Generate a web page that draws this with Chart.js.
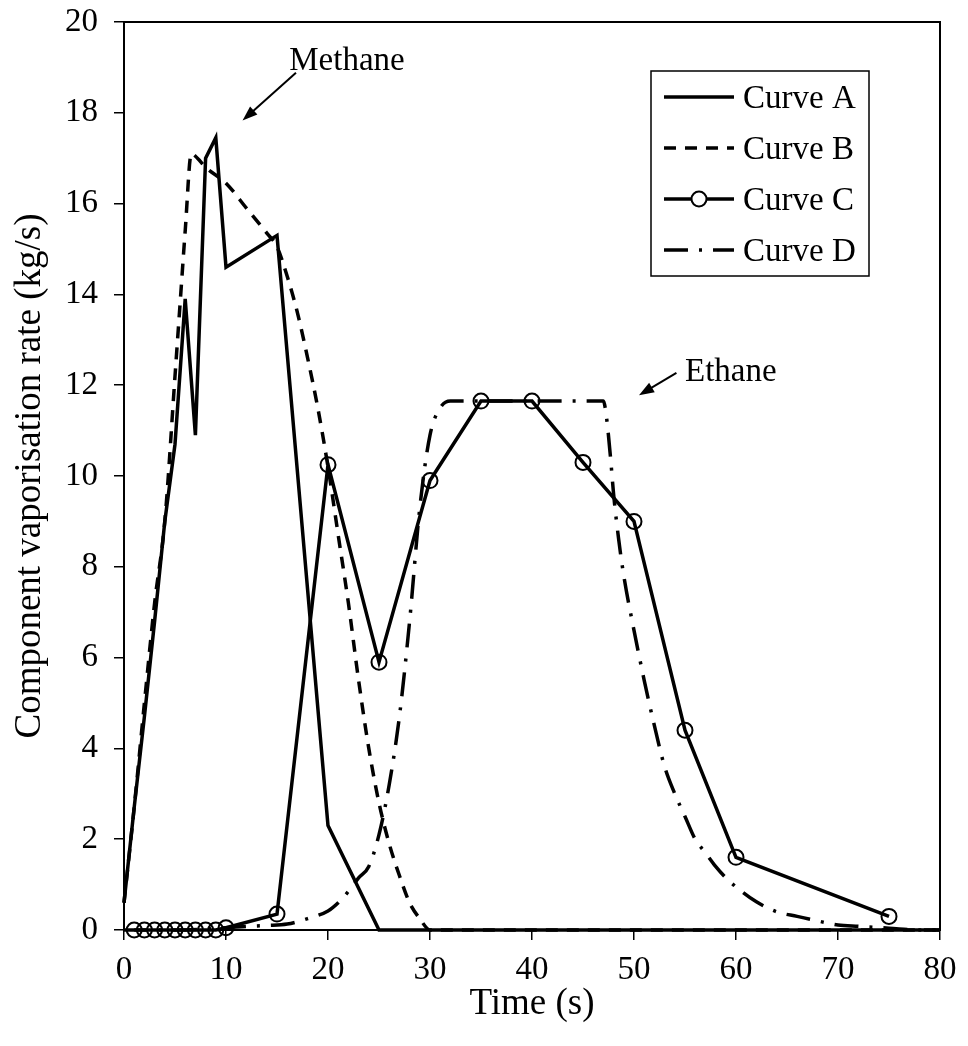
<!DOCTYPE html>
<html>
<head>
<meta charset="utf-8">
<script src="https://cdn.jsdelivr.net/npm/chart.js@4.4.0/dist/chart.umd.min.js"></script>
<style>
  html, body { margin: 0; padding: 0; background: #fff; }
  .wrap { width: 968px; height: 1046px; position: relative; }
</style>
</head>
<body>
<div class="wrap"><canvas id="chart"></canvas></div>
<script>
const FONT = "'Liberation Serif', 'Times New Roman', serif";

// Curve A - solid
const timeA = [0, 1, 2, 3, 4, 5, 6, 7, 8, 9, 10, 15, 20, 25, 30, 40, 50, 60, 70, 80];
const rateA = [0.6, 2.7, 4.7, 6.8, 9.0, 10.7, 13.9, 10.9, 17.0, 17.45, 14.6, 15.3, 2.3, 0, 0, 0, 0, 0, 0, 0];

// Curve B - dashed
const timeB = [0, 1, 2, 3, 4, 5, 5.5, 6, 6.6, 7.2, 8, 10, 12, 14, 15, 16, 17, 18, 19, 20, 21, 22, 23, 24, 25, 26, 27, 28, 29, 30, 40, 50, 60, 70, 80];
const rateB = [0.6, 2.7, 5.0, 7.2, 9.0, 12.2, 13.8, 15.4, 17.1, 17.0, 16.8, 16.45, 15.9, 15.35, 15.05, 14.4, 13.6, 12.6, 11.5, 10.2, 8.7, 7.2, 5.5, 4.0, 2.8, 1.9, 1.2, 0.6, 0.25, 0, 0, 0, 0, 0, 0];

// Curve C - solid with circles
const timeC = [1, 2, 3, 4, 5, 6, 7, 8, 9, 10, 15, 20, 25, 30, 35, 40, 45, 50, 55, 60, 75];
const rateC = [0, 0, 0, 0, 0, 0, 0, 0, 0, 0.05, 0.35, 10.25, 5.9, 9.9, 11.65, 11.65, 10.3, 9.0, 4.4, 1.6, 0.3];

// Curve D - dash-dot
const timeD = [0, 5, 10, 12, 14, 16, 18, 20, 21, 22, 23, 24, 25, 26, 27, 28, 29, 30, 31, 32, 40, 47, 47.3, 47.7, 48, 48.5, 49, 50, 51, 52, 53, 54, 55, 56, 57, 58, 59, 60, 62, 64, 66, 68, 70, 72, 75, 78, 80];
const rateD = [0, 0, 0.05, 0.08, 0.1, 0.13, 0.25, 0.42, 0.6, 0.85, 1.15, 1.4, 2.1, 3.2, 4.7, 6.8, 9.3, 10.9, 11.5, 11.65, 11.65, 11.65, 11.3, 10.4, 9.6, 8.6, 7.8, 6.6, 5.5, 4.5, 3.6, 3.0, 2.5, 2.0, 1.7, 1.4, 1.15, 0.95, 0.62, 0.4, 0.3, 0.2, 0.11, 0.08, 0.04, 0, 0];

const seriesNames = ['Curve A', 'Curve B', 'Curve C', 'Curve D'];
const xTicks = [0, 10, 20, 30, 40, 50, 60, 70, 80];
const yTicks = [0, 2, 4, 6, 8, 10, 12, 14, 16, 18, 20];

// labels with arrows, in data units: [text, textLeftX, baselineY, arrowFromX, arrowFromY, arrowToX, arrowToY]
const notes = [
  ['Methane', 16.2, 18.94, 16.86, 18.88, 11.62, 17.83],
  ['Ethane', 55.0, 12.09, 54.16, 12.27, 50.49, 11.78]
];

function pts(xs, ys) {
  return xs.map((x, i) => ({x: x, y: ys[i]}));
}

const frameAndNotes = {
  id: 'frameAndNotes',
  afterDatasetsDraw(chart) {
    const {ctx, chartArea, scales} = chart;
    ctx.save();
    ctx.strokeStyle = '#000';
    ctx.lineWidth = 2;
    ctx.strokeRect(chartArea.left, chartArea.top, chartArea.right - chartArea.left, chartArea.bottom - chartArea.top);

    ctx.fillStyle = '#000';
    ctx.font = '33px ' + FONT;
    ctx.textAlign = 'left';
    ctx.textBaseline = 'alphabetic';
    notes.forEach(n => {
      ctx.fillText(n[0], scales.x.getPixelForValue(n[1]), scales.y.getPixelForValue(n[2]));
      const x1 = scales.x.getPixelForValue(n[3]);
      const y1 = scales.y.getPixelForValue(n[4]);
      const x2 = scales.x.getPixelForValue(n[5]);
      const y2 = scales.y.getPixelForValue(n[6]);
      const ang = Math.atan2(y2 - y1, x2 - x1);
      const head = 16;
      ctx.lineWidth = 2;
      ctx.beginPath();
      ctx.moveTo(x1, y1);
      ctx.lineTo(x2 - Math.cos(ang) * head * 0.8, y2 - Math.sin(ang) * head * 0.8);
      ctx.stroke();
      ctx.beginPath();
      ctx.moveTo(x2, y2);
      ctx.lineTo(x2 - head * Math.cos(ang - 0.35), y2 - head * Math.sin(ang - 0.35));
      ctx.lineTo(x2 - head * Math.cos(ang + 0.35), y2 - head * Math.sin(ang + 0.35));
      ctx.closePath();
      ctx.fill();
    });

    // legend box inside the plot, top right
    const bx = chartArea.left + 527, by = chartArea.top + 49, bw = 218, bh = 205;
    ctx.fillStyle = '#fff';
    ctx.fillRect(bx, by, bw, bh);
    ctx.lineWidth = 1.5;
    ctx.strokeRect(bx, by, bw, bh);
    ctx.textBaseline = 'middle';
    chart.data.datasets.forEach((ds, i) => {
      const y = by + 26 + i * 51;
      ctx.strokeStyle = '#000';
      ctx.lineWidth = ds.borderWidth;
      ctx.setLineDash(ds.borderDash || []);
      ctx.beginPath();
      ctx.moveTo(bx + 13, y);
      ctx.lineTo(bx + 83, y);
      ctx.stroke();
      ctx.setLineDash([]);
      if (ds.pointRadius > 0) {
        ctx.lineWidth = ds.pointBorderWidth;
        ctx.beginPath();
        ctx.arc(bx + 48, y, ds.pointRadius, 0, Math.PI * 2);
        ctx.fillStyle = '#fff';
        ctx.fill();
        ctx.stroke();
      }
      ctx.fillStyle = '#000';
      ctx.fillText(ds.label, bx + 92, y + 2);
    });
    ctx.restore();
  }
};

const lineBase = {
  showLine: true,
  borderColor: '#000',
  backgroundColor: '#000',
  borderWidth: 3.5,
  pointRadius: 0,
  pointHoverRadius: 0,
  clip: false,
  fill: false
};

new Chart(document.getElementById('chart'), {
  type: 'scatter',
  data: {
    datasets: [
      Object.assign({}, lineBase, {label: seriesNames[0], data: pts(timeA, rateA)}),
      Object.assign({}, lineBase, {label: seriesNames[1], data: pts(timeB, rateB), borderDash: [12, 9], cubicInterpolationMode: 'monotone'}),
      Object.assign({}, lineBase, {label: seriesNames[2], data: pts(timeC, rateC),
        pointRadius: 7.5, pointBorderWidth: 2, pointBorderColor: '#000', pointBackgroundColor: 'rgba(0,0,0,0)', pointStyle: 'circle'}),
      Object.assign({}, lineBase, {label: seriesNames[3], data: pts(timeD, rateD), borderDash: [24, 11, 3, 11], cubicInterpolationMode: 'monotone'})
    ]
  },
  options: {
    responsive: true,
    maintainAspectRatio: false,
    animation: false,
    layout: { padding: { top: 22, right: 28, left: 0, bottom: 0 } },
    plugins: {
      legend: { display: false },
      tooltip: { enabled: false }
    },
    scales: {
      x: {
        type: 'linear',
        min: 0,
        max: 80,
        afterBuildTicks: s => { s.ticks = xTicks.map(v => ({value: v})); },
        afterFit: s => { s.height = 116; },
        grid: { drawOnChartArea: false, drawTicks: true, tickLength: 10, color: '#000', lineWidth: 1.5 },
        border: { color: '#000', width: 2 },
        ticks: { color: '#000', font: { family: FONT, size: 33 }, padding: 11, maxRotation: 0 },
        title: { display: true, text: 'Time (s)', color: '#000', font: { family: FONT, size: 37 }, padding: { top: 4, bottom: 20 } }
      },
      y: {
        type: 'linear',
        min: 0,
        max: 20,
        afterBuildTicks: s => { s.ticks = yTicks.map(v => ({value: v})); },
        afterFit: s => { s.width = 124; s.paddingTop = 0; s.paddingBottom = 0; },
        grid: { drawOnChartArea: false, drawTicks: true, tickLength: 10, color: '#000', lineWidth: 1.5 },
        border: { color: '#000', width: 2 },
        ticks: { color: '#000', font: { family: FONT, size: 33 }, padding: 16 },
        title: { display: true, text: 'Component vaporisation rate (kg/s)', color: '#000', font: { family: FONT, size: 37 }, padding: { top: 8, bottom: 4 } }
      }
    }
  },
  plugins: [frameAndNotes]
});
</script>
</body>
</html>
